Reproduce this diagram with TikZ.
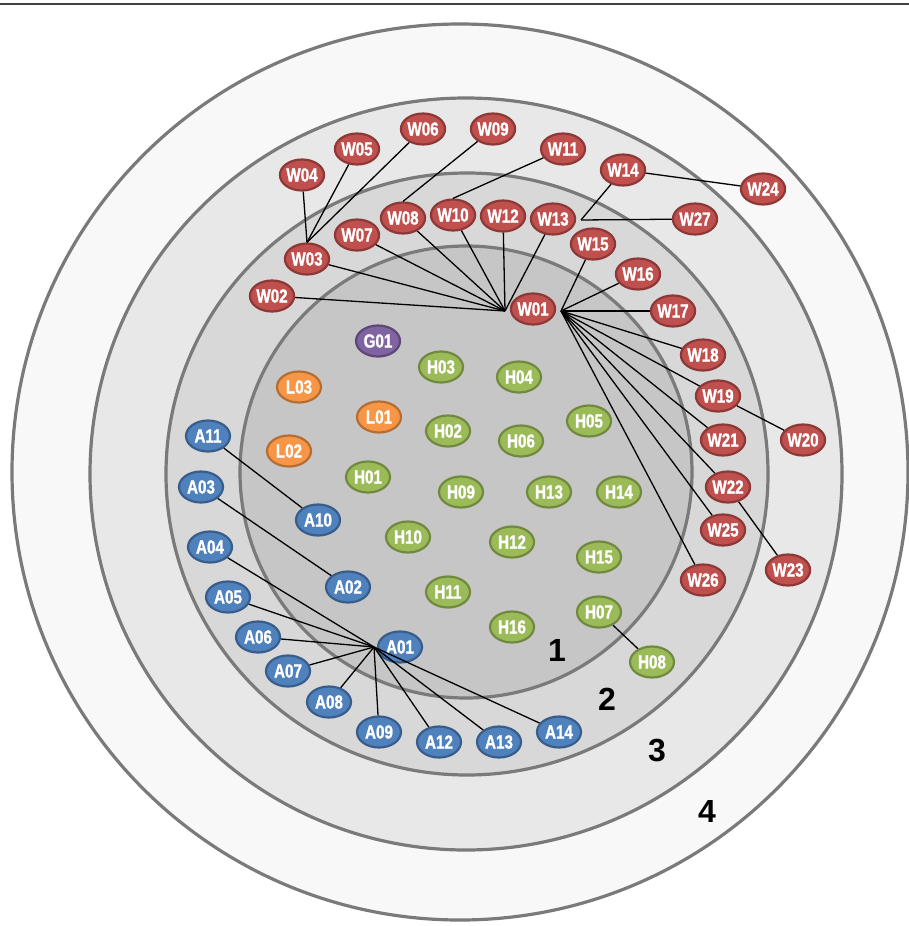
\documentclass[tikz,border=0pt]{standalone}
\usepackage{fontspec}
\usetikzlibrary{shapes.geometric}
\newfontfamily\labfont[FakeStretch=0.8,FakeBold=1.2]{Liberation Sans Bold}
\newfontfamily\numfont{Liberation Sans Bold}
\definecolor{wred}{HTML}{C0504D}
\definecolor{wredd}{HTML}{8C3836}
\definecolor{ablue}{HTML}{4F81BD}
\definecolor{ablued}{HTML}{385D8A}
\definecolor{hgreen}{HTML}{9BBB59}
\definecolor{hgreend}{HTML}{71893F}
\definecolor{lorange}{HTML}{F79646}
\definecolor{loranged}{HTML}{B66D31}
\definecolor{gpurple}{HTML}{8064A2}
\definecolor{gpurpled}{HTML}{5C4776}
\definecolor{ringc}{HTML}{7A7A7A}
\definecolor{ringf}{HTML}{F8F8F8}
\definecolor{ringe}{HTML}{E8E8E8}
\definecolor{ringd}{HTML}{D8D8D8}
\definecolor{ringa}{HTML}{C6C6C6}
\tikzset{
  bub/.style={ellipse, minimum width=44pt, minimum height=31pt, inner sep=0pt,
    line width=2.2pt, text=white, font=\labfont\fontsize{19}{19}\selectfont},
  wn/.style={bub, fill=wred, draw=wredd},
  an/.style={bub, fill=ablue, draw=ablued},
  hn/.style={bub, fill=hgreen, draw=hgreend},
  ln/.style={bub, fill=lorange, draw=loranged},
  gn/.style={bub, fill=gpurple, draw=gpurpled},
  link/.style={line width=1.3pt, black},
  ring/.style={draw=ringc, line width=3.2pt},
  zone/.style={font=\numfont\fontsize{32}{32}\selectfont, text=black, inner sep=0pt}
}
\begin{document}
\begin{tikzpicture}[x=1pt,y=1pt]
\useasboundingbox (0,0) rectangle (909,-926);
\clip (0,0) rectangle (909,-926);
\fill[white] (0,0) rectangle (909,-926);
% rings
\draw[ring, fill=ringf] (460,-472) circle (448);
\draw[ring, fill=ringe] (466,-474) circle (376);
\draw[ring, fill=ringd] (467,-474) circle (301);
\draw[ring, fill=ringa] (466,-472) circle (226);
% top rule
\coordinate (tl) at (0,-4);
\coordinate (tr) at (909,-4);
\draw[line width=2pt, black!75] (tl) -- (tr);
% zone labels
\node[zone] (z1) at (557,-650) {1};
\node[zone] (z2) at (607,-699) {2};
\node[zone] (z3) at (657,-750) {3};
\node[zone] (z4) at (707,-811) {4};
% W nodes
\node[wn] (W01) at (533,-309) {W01};
\node[wn] (W02) at (272,-296) {W02};
\node[wn] (W03) at (307,-259) {W03};
\node[wn] (W04) at (302,-175) {W04};
\node[wn] (W05) at (357,-149) {W05};
\node[wn] (W06) at (423,-129) {W06};
\node[wn] (W07) at (357,-235) {W07};
\node[wn] (W08) at (403,-218) {W08};
\node[wn] (W09) at (493,-129) {W09};
\node[wn] (W10) at (453,-215) {W10};
\node[wn] (W11) at (563,-149) {W11};
\node[wn] (W12) at (503,-216) {W12};
\node[wn] (W13) at (553,-219) {W13};
\node[wn] (W14) at (623,-170) {W14};
\node[wn] (W15) at (593,-244) {W15};
\node[wn] (W16) at (638,-274) {W16};
\node[wn] (W17) at (673,-311) {W17};
\node[wn] (W18) at (703,-355) {W18};
\node[wn] (W19) at (718,-396) {W19};
\node[wn] (W20) at (803,-440) {W20};
\node[wn] (W21) at (723,-440) {W21};
\node[wn] (W22) at (728,-487) {W22};
\node[wn] (W23) at (788,-570) {W23};
\node[wn] (W24) at (763,-189) {W24};
\node[wn] (W25) at (723,-530) {W25};
\node[wn] (W26) at (703,-580) {W26};
\node[wn] (W27) at (695,-219) {W27};
% A nodes
\node[an] (A01) at (400,-647) {A01};
\node[an] (A02) at (348,-587) {A02};
\node[an] (A03) at (201,-487) {A03};
\node[an] (A04) at (210,-547) {A04};
\node[an] (A05) at (228,-597) {A05};
\node[an] (A06) at (258,-637) {A06};
\node[an] (A07) at (288,-671) {A07};
\node[an] (A08) at (329,-702) {A08};
\node[an] (A09) at (379,-732) {A09};
\node[an] (A10) at (318,-520) {A10};
\node[an] (A11) at (208,-436) {A11};
\node[an] (A12) at (439,-742) {A12};
\node[an] (A13) at (499,-742) {A13};
\node[an] (A14) at (559,-732) {A14};
% G, L, H nodes
\node[gn] (G01) at (378,-341) {G01};
\node[ln] (L01) at (379,-417) {L01};
\node[ln] (L02) at (289,-451) {L02};
\node[ln] (L03) at (299,-387) {L03};
\node[hn] (H01) at (368,-477) {H01};
\node[hn] (H02) at (448,-431) {H02};
\node[hn] (H03) at (441,-367) {H03};
\node[hn] (H04) at (519,-377) {H04};
\node[hn] (H05) at (589,-421) {H05};
\node[hn] (H06) at (521,-441) {H06};
\node[hn] (H07) at (599,-612) {H07};
\node[hn] (H08) at (652,-662) {H08};
\node[hn] (H09) at (461,-492) {H09};
\node[hn] (H10) at (408,-537) {H10};
\node[hn] (H11) at (448,-592) {H11};
\node[hn] (H12) at (512,-542) {H12};
\node[hn] (H13) at (549,-492) {H13};
\node[hn] (H14) at (619,-492) {H14};
\node[hn] (H15) at (599,-557) {H15};
\node[hn] (H16) at (512,-627) {H16};
% hubs
\coordinate (hWL) at (505,-311);
\coordinate (hWR) at (561,-311);
\coordinate (hW13) at (581,-220);
\coordinate (hA) at (374,-647);
% connectors
\foreach \t in {W02,W03,W07,W08,W10,W12,W13} \draw[link] (hWL) -- (\t);
\foreach \t in {W15,W16,W17,W18,W19,W21,W22,W25,W26} \draw[link] (hWR) -- (\t);
\foreach \t in {W14,W27} \draw[link] (hW13) -- (\t);
\foreach \t in {W04,W05,W06} \draw[link] (W03.north) -- (\t);
\draw[link] (W08.north) -- (W09);
\draw[link] (W10.north) -- (W11);
\draw[link] (W14) -- (W24);
\draw[link] (W19) -- (W20);
\draw[link] (W22) -- (W23);
\foreach \t in {A04,A05,A06,A07,A08,A09,A12,A13,A14} \draw[link] (hA) -- (\t);
\draw[link] (A11) -- (A10);
\draw[link] (A03) -- (A02);
\draw[link] (H07) -- (H08);
\end{tikzpicture}
\end{document}
